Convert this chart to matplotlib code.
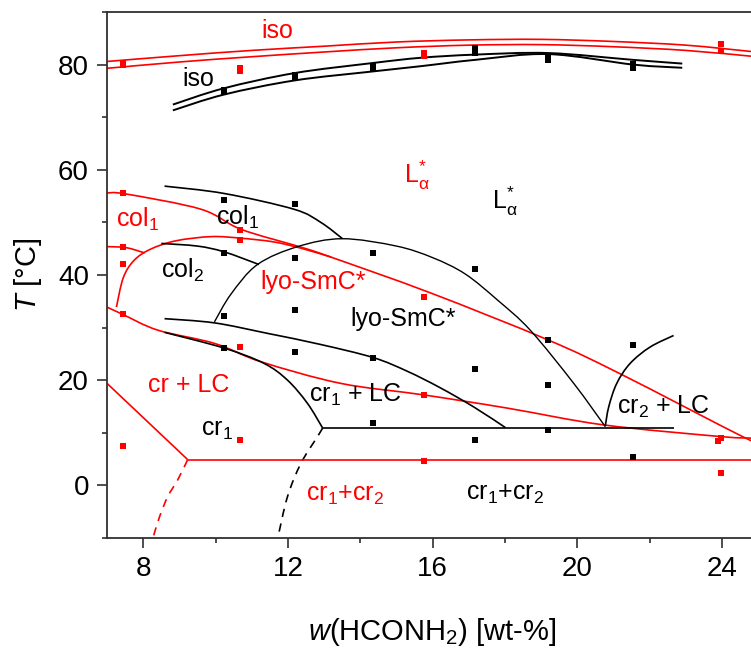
import numpy as np
import matplotlib
matplotlib.use("Agg")
import matplotlib.pyplot as plt
from matplotlib.path import Path
from matplotlib.patches import PathPatch

plt.rcParams['font.family'] = ['Liberation Sans', 'DejaVu Sans']
plt.rcParams['mathtext.fontset'] = 'custom'
plt.rcParams['mathtext.rm'] = 'Liberation Sans'
plt.rcParams['mathtext.it'] = 'Liberation Sans:italic'
plt.rcParams['mathtext.bf'] = 'Liberation Sans:bold'
plt.rcParams['mathtext.sf'] = 'Liberation Sans'

RED = '#ff0000'
BLACK = '#000000'

# ---- measured transition points (composition wt-%, temperature °C) ----
black_pts_x = [10.23, 10.23, 10.23, 10.23, 10.23, 10.23,
               12.19, 12.19, 12.19, 12.19, 12.19, 12.19,
               14.34, 14.34, 14.34, 14.34, 14.34,
               17.17, 17.17, 17.17, 17.17, 17.17,
               19.2, 19.2, 19.2, 19.2, 19.2,
               21.55, 21.55, 21.55, 21.55]
black_pts_y = [75.1, 74.8, 54.2, 44.2, 32.3, 26.2,
               78.1, 77.6, 53.5, 43.3, 33.3, 25.4,
               79.7, 79.2, 44.2, 24.3, 11.8,
               83.2, 82.2, 41.1, 22.1, 8.6,
               81.6, 80.8, 27.6, 19.0, 10.5,
               80.1, 79.4, 26.6, 5.4]

red_pts_x = [7.45, 7.45, 7.45, 7.45, 7.45, 7.45, 7.45,
             10.68, 10.68, 10.68, 10.68, 10.68, 10.68,
             15.75, 15.75, 15.75, 15.75, 15.75,
             23.97, 23.97, 23.97, 23.9, 23.97]
red_pts_y = [80.4, 80.0, 55.5, 45.3, 42.0, 32.5, 7.5,
             79.4, 78.8, 48.6, 46.7, 26.3, 8.7,
             82.3, 81.6, 35.8, 17.2, 4.7,
             83.9, 82.6, 9.0, 8.4, 2.3]

# ---- phase boundaries, black system ----
blk_iso_hi_x = [8.82, 10.23, 12.19, 14.34, 15.67, 17.17, 19.2, 21.55, 22.9]
blk_iso_hi_y = [72.4, 75.5, 78.4, 80.3, 81.3, 81.9, 82.2, 80.9, 80.2]
blk_iso_lo_x = [8.82, 10.23, 12.19, 14.34, 15.67, 17.17, 19.2, 21.55, 22.9]
blk_iso_lo_y = [71.3, 74.3, 77.0, 78.7, 79.7, 80.9, 82.0, 80.0, 79.4]
blk_col1_x = [8.59, 10.24, 12.17, 12.91, 13.51]
blk_col1_y = [56.9, 55.5, 52.5, 50.0, 46.9]
blk_dome_x = [9.97, 10.43, 11.16, 12.27, 13.5, 15.0, 16.0, 16.9, 17.8, 18.7, 19.9, 20.77]
blk_dome_y = [31.1, 36.4, 42.0, 45.4, 46.9, 45.5, 43.3, 40.2, 35.2, 29.5, 19.4, 11.2]
blk_col2_x = [8.5, 9.5, 10.24, 11.2]
blk_col2_y = [46.0, 45.5, 44.4, 42.0]
blk_lyo_x = [8.59, 9.97, 11.44, 12.9, 14.36, 15.3, 16.2, 17.14, 18.01]
blk_lyo_y = [31.7, 30.9, 28.9, 26.8, 24.3, 21.7, 18.6, 14.9, 11.0]
blk_cr1_x = [8.59, 10.24, 11.34, 11.99, 12.54, 12.96]
blk_cr1_y = [29.1, 26.1, 23.2, 20.0, 15.6, 10.9]
blk_cr1_dash_x = [12.96, 12.82, 12.36, 11.99, 11.72]
blk_cr1_dash_y = [10.9, 9.3, 4.2, -2.1, -10.0]
blk_eut_x = [12.96, 22.66]
blk_eut_y = [11.0, 11.0]
blk_cr2_x = [20.77, 20.87, 21.09, 21.46, 22.01, 22.66]
blk_cr2_y = [11.2, 15.0, 19.4, 23.2, 26.3, 28.5]

# ---- phase boundaries, red system ----
red_iso_x = [7.0, 9.0, 11.0, 13.0, 15.0, 17.0, 19.0, 21.0, 23.0, 24.8]
red_iso_hi_y = [80.6, 81.7, 82.7, 83.5, 84.3, 84.7, 84.8, 84.4, 83.7, 82.5]
red_iso_lo_y = [79.3, 80.5, 81.5, 82.4, 83.2, 83.7, 83.8, 83.4, 82.7, 81.6]
red_col1_x = [7.0, 7.53, 9.6, 10.70, 12.36, 13.19, 15.94, 19.21, 21.19, 24.59, 24.8]
red_col1_y = [55.6, 55.4, 52.5, 48.7, 45.3, 43.4, 36.6, 27.6, 21.2, 9.2, 9.0]
red_dome_x = [7.26, 7.45, 7.75, 8.2, 8.9, 9.88, 10.7, 11.6, 12.36, 13.2]
red_dome_y = [33.9, 39.5, 42.8, 44.9, 46.5, 47.3, 47.0, 46.3, 45.1, 43.4]
red_col2_x = [7.0, 7.53, 8.04]
red_col2_y = [45.4, 45.2, 44.2]
red_lyo_x = [7.0, 7.44, 8.41, 9.97, 11.26, 13.46, 15.76, 18.06, 20.73, 23.94, 24.8]
red_lyo_y = [33.9, 32.5, 29.5, 27.0, 23.5, 19.4, 17.2, 14.7, 11.5, 9.3, 9.0]
red_crlc_x = [7.0, 9.23]
red_crlc_y = [19.4, 4.9]
red_eut_x = [9.23, 24.8]
red_eut_y = [4.8, 4.8]
red_dash_x = [9.23, 8.95, 8.68, 8.45, 8.27]
red_dash_y = [4.9, 1.0, -2.1, -6.0, -10.0]

x_major = [8, 12, 16, 20, 24]
x_minor = [10, 14, 18, 22]
y_major = [0, 20, 40, 60, 80]
y_minor = [-10, 10, 30, 50, 70, 90]


def smooth(ax, xs, ys, color, lw=1.2, ls='-'):
    """Draw a smooth curve through the given points (Catmull-Rom as cubic Bezier)."""
    pts = np.column_stack([xs, ys]).astype(float)
    n = len(pts)
    if n == 2:
        ax.plot(xs, ys, color=color, lw=lw, ls=ls, solid_capstyle='butt')
        return
    verts = [pts[0]]
    codes = [Path.MOVETO]
    for i in range(n - 1):
        p0 = pts[i - 1] if i > 0 else pts[i]
        p1 = pts[i]
        p2 = pts[i + 1]
        p3 = pts[i + 2] if i + 2 < n else pts[i + 1]
        verts += [p1 + (p2 - p0) / 6.0, p2 - (p3 - p1) / 6.0, p2]
        codes += [Path.CURVE4] * 3
    ax.add_patch(PathPatch(Path(verts, codes), facecolor='none', edgecolor=color,
                           lw=lw, ls=ls, capstyle='butt'))


fig = plt.figure(figsize=(7.51, 6.5), dpi=100)
ax = fig.add_axes([0.1425, 0.1723, 0.8575, 0.8092])
ax.set_xlim(7, 24.8)
ax.set_ylim(-10, 90)

# red system
smooth(ax, red_iso_x, red_iso_hi_y, RED)
smooth(ax, red_iso_x, red_iso_lo_y, RED)
smooth(ax, red_col1_x, red_col1_y, RED)
smooth(ax, red_dome_x, red_dome_y, RED)
smooth(ax, red_col2_x, red_col2_y, RED)
smooth(ax, red_lyo_x, red_lyo_y, RED)
smooth(ax, red_crlc_x, red_crlc_y, RED)
smooth(ax, red_eut_x, red_eut_y, RED)
smooth(ax, red_dash_x, red_dash_y, RED, ls=(0, (5, 4)))

# black system
smooth(ax, blk_iso_hi_x, blk_iso_hi_y, BLACK, lw=1.4)
smooth(ax, blk_iso_lo_x, blk_iso_lo_y, BLACK, lw=1.4)
smooth(ax, blk_col1_x, blk_col1_y, BLACK)
smooth(ax, blk_dome_x, blk_dome_y, BLACK, lw=1.0)
smooth(ax, blk_col2_x, blk_col2_y, BLACK)
smooth(ax, blk_lyo_x, blk_lyo_y, BLACK)
smooth(ax, blk_cr1_x, blk_cr1_y, BLACK)
smooth(ax, blk_cr1_dash_x, blk_cr1_dash_y, BLACK, ls=(0, (5, 4)))
smooth(ax, blk_eut_x, blk_eut_y, BLACK)
smooth(ax, blk_cr2_x, blk_cr2_y, BLACK)

ax.plot(red_pts_x, red_pts_y, ls='none', marker='s', ms=4.8, color=RED, mew=0, zorder=5)
ax.plot(black_pts_x, black_pts_y, ls='none', marker='s', ms=4.8, color=BLACK, mew=0, zorder=5)

# phase labels
fs = 18
ax.text(11.72, 86.3, 'iso', color=RED, fontsize=fs, ha='center', va='center')
ax.text(9.53, 77.2, 'iso', color=BLACK, fontsize=fs, ha='center', va='center')
ax.text(15.21, 57.4, r'L$^{*}_{\mathrm{\alpha}}$', color=RED, fontsize=fs, ha='left', va='baseline')
ax.text(17.65, 52.5, r'L$^{*}_{\mathrm{\alpha}}$', color=BLACK, fontsize=fs, ha='left', va='baseline')
ax.text(7.26, 49.1, r'col$_{\mathrm{1}}$', color=RED, fontsize=fs, ha='left', va='baseline')
ax.text(10.01, 49.5, r'col$_{\mathrm{1}}$', color=BLACK, fontsize=fs, ha='left', va='baseline')
ax.text(8.5, 39.5, r'col$_{\mathrm{2}}$', color=BLACK, fontsize=fs, ha='left', va='baseline')
ax.text(11.23, 37.4, 'lyo-SmC*', color=RED, fontsize=fs, ha='left', va='baseline')
ax.text(13.74, 30.3, 'lyo-SmC*', color=BLACK, fontsize=fs, ha='left', va='baseline')
ax.text(8.13, 17.8, 'cr + LC', color=RED, fontsize=fs, ha='left', va='baseline')
ax.text(9.6, 9.4, r'cr$_{\mathrm{1}}$', color=BLACK, fontsize=fs, ha='left', va='baseline')
ax.text(12.58, 15.9, r'cr$_{\mathrm{1}}$ + LC', color=BLACK, fontsize=fs, ha='left', va='baseline')
ax.text(12.5, -3.0, r'cr$_{\mathrm{1}}$+cr$_{\mathrm{2}}$', color=RED, fontsize=fs, ha='left', va='baseline')
ax.text(16.91, -2.7, r'cr$_{\mathrm{1}}$+cr$_{\mathrm{2}}$', color=BLACK, fontsize=fs, ha='left', va='baseline')
ax.text(21.1, 13.7, r'cr$_{\mathrm{2}}$ + LC', color=BLACK, fontsize=fs, ha='left', va='baseline')

# axes styling
spine_c = '#303030'
for side in ('left', 'bottom', 'top'):
    ax.spines[side].set_color(spine_c)
    ax.spines[side].set_linewidth(1.3)
ax.spines['right'].set_visible(False)

ax.set_xticks(x_major)
ax.set_xticks(x_minor, minor=True)
ax.set_yticks(y_major)
ax.set_yticks(y_minor, minor=True)
ax.tick_params(which='both', direction='out', color=spine_c, width=1.2, top=False, right=False)
ax.tick_params(which='major', length=7, labelsize=20, pad=6)
ax.tick_params(which='minor', length=3.5)

ax.set_xlabel(r'$\mathit{w}$(HCONH$_{\mathrm{2}}$) [wt-%]', fontsize=21)
ax.set_ylabel(r'$\mathit{T}$ [°C]', fontsize=21)
ax.xaxis.set_label_coords(0.505, -0.148)
ax.yaxis.set_label_coords(-0.098, 0.5)

fig.savefig('out.png', dpi=100)
